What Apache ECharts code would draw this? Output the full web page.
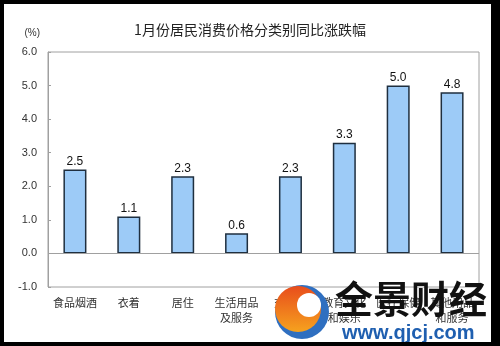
<!DOCTYPE html>
<html>
<head>
<meta charset="utf-8">
<script src="https://cdn.jsdelivr.net/npm/echarts@6/dist/echarts.min.js"></script>
<style>
html,body{margin:0;padding:0;background:#000;}
#wrap{position:absolute;left:4px;top:4px;width:487px;height:338px;background:#fff;overflow:hidden;}
#main{position:absolute;left:-4px;top:-4px;width:500px;height:346px;}
</style>
</head>
<body>
<div id="wrap"><div id="main"></div></div>
<script>
var categories = ['食品烟酒','衣着','居住','生活用品\n及服务','交通和\n通信','教育文化\n和娱乐','医疗保健','其他用品\n和服务'];
var values = [2.5, 1.1, 2.3, 0.6, 2.3, 3.3, 5.0, 4.8];
var yTicks = {min: -1, max: 6, interval: 1};
var titleText = '1月份居民消费价格分类别同比涨跌幅';
var unitText = '(%)';

var chart = echarts.init(document.getElementById('main'), null, {renderer: 'canvas'});
var font = '"Noto Sans CJK SC", "Liberation Sans", sans-serif';
chart.setOption({
  animation: false,
  backgroundColor: 'transparent',
  title: {
    text: titleText, left: 245, top: 18, textAlign: 'center',
    textStyle: {fontSize: 14, fontWeight: 'normal', color: '#222', fontFamily: font}
  },
  grid: {left: 48, right: 21, top: 52, bottom: 59, show: true, borderColor: '#a0a0a0', borderWidth: 1},
  xAxis: {
    type: 'category', data: categories,
    axisLine: {show: false}, axisTick: {show: false},
    axisLabel: {fontSize: 11, color: '#333', margin: 8, lineHeight: 15, fontFamily: font, interval: 0}
  },
  yAxis: {
    type: 'value', min: yTicks.min, max: yTicks.max, interval: yTicks.interval,
    name: unitText, nameLocation: 'end', nameGap: 14,
    nameTextStyle: {fontSize: 10, color: '#333', align: 'right', padding: [0, 8, 0, 0]},
    splitLine: {show: false},
    axisLine: {show: true, onZero: false, lineStyle: {color: '#a0a0a0'}},
    axisTick: {show: true, inside: true, length: 3, lineStyle: {color: '#a0a0a0'}},
    axisLabel: {fontSize: 11, color: '#333', margin: 11, formatter: function(v){return v.toFixed(1);}, fontFamily: 'Liberation Sans'}
  },
  series: [{
    type: 'bar', data: values, barWidth: 23,
    itemStyle: {color: '#9dcbf7', borderColor: '#1f2f3f', borderWidth: 1.5},
    label: {show: true, position: 'top', distance: 2, fontSize: 12, color: '#111',
      formatter: function(p){return p.value.toFixed(1);}, fontFamily: 'Liberation Sans'},
    markLine: {silent: true, symbol: 'none', label: {show: false},
      lineStyle: {color: '#a0a0a0', type: 'solid', width: 1}, data: [{yAxis: 0}]}
  }],
  graphic: [
    {type: 'circle', shape: {cx: 302, cy: 312, r: 27}, style: {fill: '#2f6fc0'}, z: 100},
    {type: 'circle', shape: {cx: 298, cy: 309, r: 23}, style: {fill: new echarts.graphic.LinearGradient(0,0,0,1,[{offset:0,color:'#e84d1c'},{offset:1,color:'#f6a21e'}])}, z: 101},
    {type: 'circle', shape: {cx: 309, cy: 305, r: 12}, style: {fill: '#ffffff'}, z: 102},
    {type: 'text', left: 335, top: 280, style: {text: '全景财经', font: 'bold 38px "Noto Sans CJK SC", sans-serif', fill: '#111'}, z: 103},
    {type: 'text', left: 342, top: 323, style: {text: 'www.qjcj.com', font: 'bold 20px "Liberation Sans", sans-serif', fill: '#1f5fb0'}, z: 103}
  ]
});
</script>
</body>
</html>
